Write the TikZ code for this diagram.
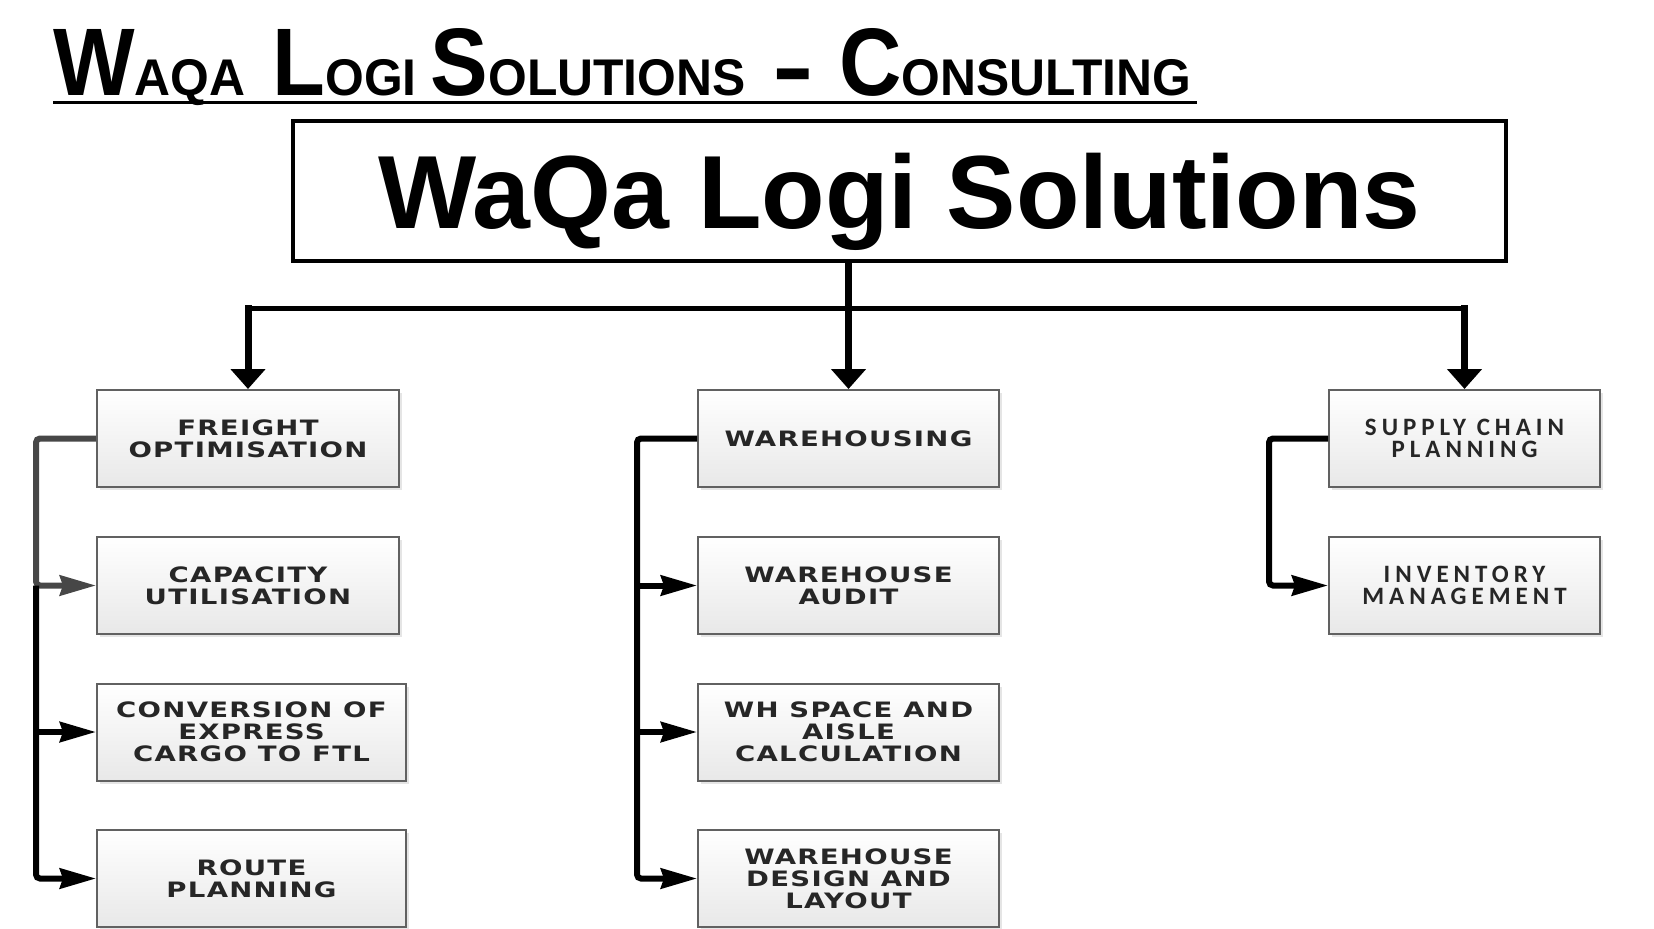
\documentclass[tikz,border=0pt]{standalone}
\usepackage{fontspec}
\setmainfont{Liberation Sans}
\newfontfamily\boxfont{DejaVu Sans}[FakeStretch=1.3,LetterSpace=6]
\newfontfamily\scfont{Carlito}[LetterSpace=20]
\usetikzlibrary{arrows.meta,shadows,calc}
\newcommand\BigC[1]{\scalebox{0.9}[1]{\bfseries\fontsize{48}{50}\selectfont #1}}
\newcommand\SmC[1]{\scalebox{0.965}[1]{\bfseries\fontsize{25.8}{28}\selectfont #1}}
\tikzset{
  sbox/.style={draw=black!62, line width=1pt, top color=white, bottom color=black!9,
    drop shadow={shadow xshift=1.6pt, shadow yshift=-1.6pt, opacity=0.22, fill=black!45},
    minimum height=48.5pt, inner sep=0pt, align=center, text=black!85,
    font={\boxfont\bfseries\fontsize{10.6}{11}\selectfont}},
  scbox/.style={sbox, font={\scfont\bfseries\fontsize{12.5}{11}\selectfont}},
  hline/.style={line width=2.5pt, line cap=rect},
  vdrop/.style={line width=3.5pt, -{Triangle[length=10pt,width=17pt]}},
  sline/.style={line width=3pt, rounded corners=2pt, -{Stealth[length=18pt,width=10pt,inset=1.5pt]}}
}
\begin{document}
\begin{tikzpicture}[x=0.5pt,y=-0.5pt]
\path[use as bounding box, fill=white] (0,0) rectangle (1654,928);
\clip (0,0) rectangle (1654,928);

% header
\node[anchor=base west, inner sep=0pt] (hdr) at (53,95)
  {\BigC{W}\SmC{AQA}\hspace{13.5pt}\BigC{L}\SmC{OGI}\hspace{7pt}\BigC{S}\SmC{OLUTIONS}\hspace{15pt}{\bfseries\fontsize{32}{34}\selectfont\raisebox{-4.3pt}{\scalebox{1}[1.7]{–}}}\hspace{14pt}\BigC{C}\SmC{ONSULTING}};
\draw[line width=1.5pt] (53,102) -- (1197,102);

% main box
\node[draw, line width=2pt, minimum width=606.5pt, minimum height=70pt, inner sep=0pt,
  text height=37.2pt, text depth=0pt, font={\bfseries\fontsize{52}{56}\selectfont}]
  (top) at (899.5,191) {WaQa Logi Solutions};

% column 1
\node[sbox, minimum width=151pt] (fr) at (248,438.5) {FREIGHT\\OPTIMISATION};
\node[sbox, minimum width=151pt] (ca) at (248,585.5) {CAPACITY\\UTILISATION};
\node[sbox, minimum width=154.5pt] (cv) at (251.5,732) {CONVERSION OF\\EXPRESS\\CARGO TO FTL};
\node[sbox, minimum width=154.5pt] (ro) at (251.5,878.5) {ROUTE\\PLANNING};
% column 2
\node[sbox, minimum width=150.5pt] (wh) at (848.5,438.5) {WAREHOUSING};
\node[sbox, minimum width=150.5pt] (wa) at (848.5,585.5) {WAREHOUSE\\AUDIT};
\node[sbox, minimum width=150.5pt] (ws) at (848.5,732) {WH SPACE AND\\AISLE\\CALCULATION};
\node[sbox, minimum width=150.5pt] (wd) at (848.5,878.5) {WAREHOUSE\\DESIGN AND\\LAYOUT};
% column 3
\node[scbox, minimum width=135.5pt] (sc) at (1464.5,438.5) {SUPPLY CHAIN\\PLANNING};
\node[scbox, minimum width=135.5pt] (im) at (1464.5,585.5) {INVENTORY\\MANAGEMENT};

% top connectors
\coordinate (bj) at (848,308);
\draw[hline] (fr.north |- bj) -- (sc.north |- bj);
\draw[vdrop, line cap=rect] (fr.north |- bj) -- (fr.north);
\draw[vdrop, line cap=rect] (sc.north |- bj) -- (sc.north);
\draw[vdrop] (wh.north |- top.south) -- (wh.north);

% column 1 connectors
\coordinate (k1) at ($(fr.west)+(-60,0)$);
\draw[sline, black!72] (fr.west) -- (k1) |- (ca.west);
\draw[sline] (k1 |- ca.west) |- (ro.west);
\draw[sline] (k1 |- cv.west) -- (cv.west);

% column 2 connectors
\coordinate (k2) at ($(wh.west)+(-60,0)$);
\draw[sline] (wh.west) -- (k2) |- (wd.west);
\draw[sline] (k2 |- wa.west) -- (wa.west);
\draw[sline] (k2 |- ws.west) -- (ws.west);

% column 3 connectors
\coordinate (k3) at ($(sc.west)+(-59,0)$);
\draw[sline] (sc.west) -- (k3) |- (im.west);
\end{tikzpicture}
\end{document}
